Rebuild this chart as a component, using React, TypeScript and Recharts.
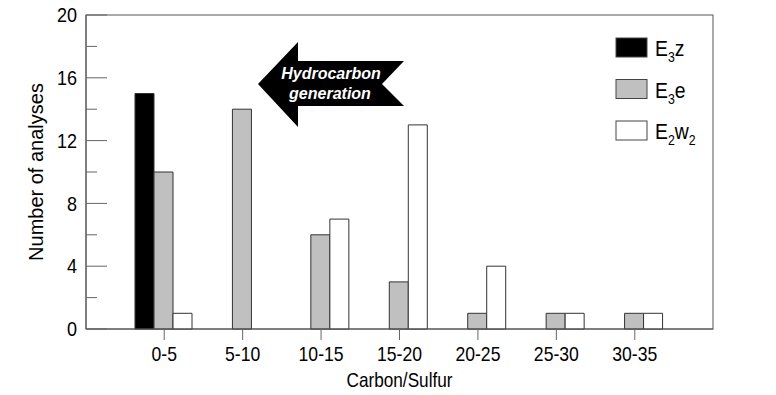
import { BarChart, Bar, XAxis, YAxis } from "recharts";

const categories = ["0-5", "5-10", "10-15", "15-20", "20-25", "25-30", "30-35"];
const e3z = [15, 0, 0, 0, 0, 0, 0];
const e3e = [10, 14, 6, 3, 1, 1, 1];
const e2w2 = [1, 0, 7, 13, 4, 1, 1];

const yTicks = [0, 2, 4, 6, 8, 10, 12, 14, 16, 18, 20];
const labeledTicks = [0, 4, 8, 12, 16, 20];

// legend pieces: [text, isSubscript]
const legendItems = [
  { fill: "#000000", parts: [["E", false], ["3", true], ["z", false]] },
  { fill: "#c0c0c0", parts: [["E", false], ["3", true], ["e", false]] },
  { fill: "#ffffff", parts: [["E", false], ["2", true], ["w", false], ["2", true]] },
] as const;

const data = categories.map((c, i) => ({
  range: c,
  e3z: e3z[i],
  e3e: e3e[i],
  e2w2: e2w2[i],
}));

const FONT = "'Liberation Sans', Arial, sans-serif";
const AXIS = "#555";

function XTick({ x, y, payload }: any) {
  return (
    <text
      transform={`translate(${x},${y + 19}) scale(0.88,1)`}
      textAnchor="middle"
      fontFamily={FONT}
      fontSize={20}
      fill="#000"
    >
      {payload.value}
    </text>
  );
}

function YTick({ x, y, payload }: any) {
  const major = labeledTicks.includes(payload.value);
  return (
    <g>
      <line x1={x + 9} x2={x + 9 + (major ? 21 : 11)} y1={y} y2={y} stroke="#666" />
      {major && (
        <text
          transform={`translate(${x},${y}) scale(0.9,1)`}
          dy="0.36em"
          textAnchor="end"
          fontFamily={FONT}
          fontSize={20}
          fill="#000"
        >
          {payload.value}
        </text>
      )}
    </g>
  );
}

function LegendBlock() {
  return (
    <g fontFamily={FONT}>
      {legendItems.map((item, i) => {
        const top = 38 + i * 41.5;
        let dyPrev = 0;
        return (
          <g key={i}>
            <rect x={616} y={top} width={31} height={19} fill={item.fill} stroke="#444" />
            <text transform={`translate(655,${top + 18}) scale(0.88,1)`} fontSize={22} fill="#000">
              {item.parts.map(([t, sub], j) => {
                const target = sub ? 6 : 0;
                const dy = target - dyPrev;
                dyPrev = target;
                return (
                  <tspan key={j} dy={dy} fontSize={sub ? 14 : 22}>
                    {t}
                  </tspan>
                );
              })}
            </text>
          </g>
        );
      })}
    </g>
  );
}

function Arrow() {
  return (
    <g>
      <polygon
        points="258,84 298,42 298,61 404,61 382,84 404,106 298,106 298,127"
        fill="#000"
      />
      <text
        x={331}
        y={79}
        textAnchor="middle"
        fontFamily={FONT}
        fontSize={16}
        fontWeight="bold"
        fontStyle="italic"
        fill="#fff"
      >
        Hydrocarbon
      </text>
      <text
        x={330}
        y={99}
        textAnchor="middle"
        fontFamily={FONT}
        fontSize={16}
        fontWeight="bold"
        fontStyle="italic"
        fill="#fff"
      >
        generation
      </text>
    </g>
  );
}

export default function App() {
  return (
    <div style={{ position: "absolute", left: 0, top: 0, width: 776, height: 395, background: "#fff" }}>
      <BarChart
        width={776}
        height={395}
        data={data}
        margin={{ top: 15, right: 63, bottom: 0, left: 0 }}
        barCategoryGap={10}
        barGap={0}
      >
        <rect x={86} y={15} width={627} height={314} fill="none" stroke={AXIS} />
        <XAxis
          dataKey="range"
          height={66}
          padding={{ left: 39, right: 39 }}
          tickSize={11}
          tickLine={{ stroke: "#666" }}
          axisLine={{ stroke: AXIS }}
          tick={<XTick />}
          interval={0}
          label={{
            content: ({ viewBox }: any) => (
              <text
                transform={`translate(${viewBox.x + viewBox.width / 2},${viewBox.y + 58}) scale(0.86,1)`}
                textAnchor="middle"
                fontFamily={FONT}
                fontSize={20}
                fill="#000"
              >
                Carbon/Sulfur
              </text>
            ),
          }}
        />
        <YAxis
          width={86}
          domain={[0, 20]}
          ticks={yTicks}
          interval={0}
          tickSize={0}
          tickMargin={9}
          tickLine={false}
          axisLine={{ stroke: AXIS }}
          tick={<YTick />}
          label={{
            content: ({ viewBox }: any) => (
              <text
                transform={`translate(43,${viewBox.y + viewBox.height / 2}) rotate(-90)`}
                textAnchor="middle"
                fontFamily={FONT}
                fontSize={20}
                fill="#000"
              >
                Number of analyses
              </text>
            ),
          }}
        />
        <Bar dataKey="e3z" fill="#000000" stroke="#333" isAnimationActive={false} />
        <Bar dataKey="e3e" fill="#c0c0c0" stroke="#333" isAnimationActive={false} />
        <Bar dataKey="e2w2" fill="#ffffff" stroke="#333" isAnimationActive={false} />
        <Arrow />
        <LegendBlock />
      </BarChart>
    </div>
  );
}
